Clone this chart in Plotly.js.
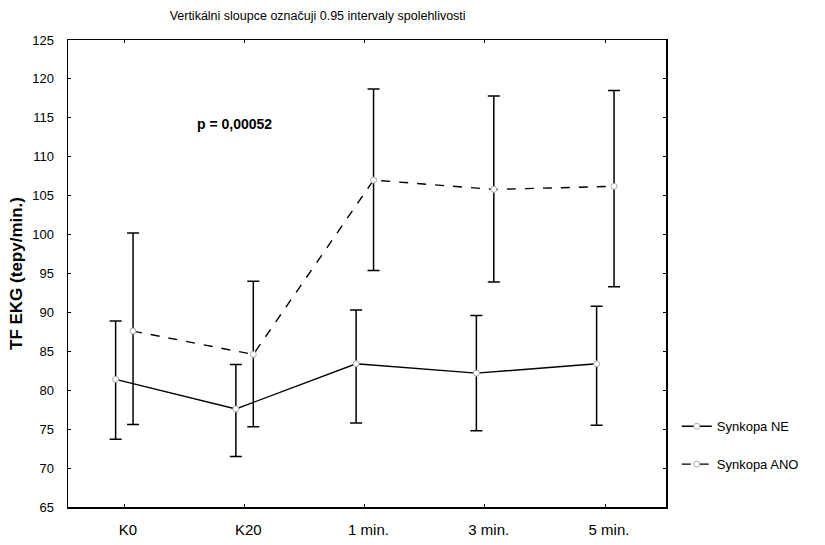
<!DOCTYPE html>
<html>
<head>
<meta charset="utf-8">
<script src="https://cdn.plot.ly/plotly-3.0.1.min.js"></script>
<style>html,body{margin:0;padding:0;background:#fff;}#chart{width:825px;height:545px;}</style>
</head>
<body>
<div id="chart"></div>
<script>
// Categories (time points)
const categories = ["K0", "K20", "1 min.", "3 min.", "5 min."];

// Synkopa NE: mean and 0.95 confidence limits
const neMean  = [81.4, 77.6, 83.4, 82.2, 83.4];
const neUpper = [88.9, 83.3, 90.3, 89.6, 90.8];
const neLower = [73.7, 71.5, 75.8, 74.8, 75.5];

// Synkopa ANO: mean and 0.95 confidence limits
const anoMean  = [87.6, 84.6, 107.0, 105.8, 106.2];
const anoUpper = [100.2, 94.0, 118.7, 117.8, 118.5];
const anoLower = [75.6, 75.3, 95.4, 93.9, 93.3];

const seriesNames = ["Synkopa NE", "Synkopa ANO"];
const yTicks = [65, 70, 75, 80, 85, 90, 95, 100, 105, 110, 115, 120, 125];
const pText = "p = 0,00052";
const titleText = "Vertikálni sloupce označuji 0.95 intervaly spolehlivosti";
const yTitle = "TF EKG (tepy/min.)";

const FONT = "Liberation Sans, Arial, sans-serif";
const idx = categories.map((c, i) => i);

function makeTrace(name, mean, upper, lower, shift, dash, group) {
  return {
    type: "scatter",
    mode: "lines+markers",
    name: name,
    legendgroup: group,
    x: idx.map(i => i + shift),
    y: mean,
    line: {color: "#000", width: 1.4, dash: dash},
    marker: {symbol: "circle", size: 6, color: "#fff", line: {color: "#aaa", width: 1}},
    error_y: {
      type: "data", symmetric: false,
      array: upper.map((u, i) => u - mean[i]),
      arrayminus: lower.map((l, i) => mean[i] - l),
      color: "#000", thickness: 1.5, width: 6
    },
    hoverinfo: "x+y"
  };
}

const data = [
  makeTrace(seriesNames[0], neMean, neUpper, neLower, -0.07, "solid", "g1"),
  makeTrace(seriesNames[1], anoMean, anoUpper, anoLower, 0.075, "dash", "g2")
];

const layout = {
  width: 825, height: 545,
  margin: {l: 68, r: 159, t: 40, b: 38},
  paper_bgcolor: "#fff", plot_bgcolor: "#fff",
  font: {family: FONT, color: "#000", size: 12},
  title: {text: titleText, font: {family: FONT, size: 12.5, color: "#000"},
          x: 0.385, xref: "container", xanchor: "center", y: 0.972, yref: "container", yanchor: "middle"},
  xaxis: {
    range: [-0.466, 4.507],
    tickmode: "array", tickvals: idx, ticktext: categories,
    showgrid: false, zeroline: false,
    showline: true, linecolor: "#000", linewidth: 1.5, mirror: "ticks",
    ticks: "inside", ticklen: 3, tickcolor: "#000",
    tickfont: {family: FONT, size: 15, color: "#000"},
    ticklabelshift: 4, ticklabelstandoff: 8
  },
  yaxis: {
    range: [65, 125],
    tickmode: "array", tickvals: yTicks,
    showgrid: false, zeroline: false,
    showline: true, linecolor: "#000", linewidth: 1.5, mirror: "ticks",
    ticks: "inside", ticklen: 3, tickcolor: "#000",
    tickfont: {family: FONT, size: 13, color: "#000"},
    ticklabelstandoff: 10,
    title: {text: yTitle, font: {family: FONT, size: 17, color: "#000", weight: "bold"}, standoff: 5}
  },
  showlegend: true,
  legend: {
    x: 1.018, xanchor: "left", y: 0.205, yanchor: "top",
    traceorder: "grouped", tracegroupgap: 18,
    font: {family: FONT, size: 13, color: "#000"},
    bgcolor: "rgba(0,0,0,0)", itemwidth: 30
  },
  annotations: [{
    text: pText, xref: "paper", yref: "paper",
    x: (235 - 68) / 599, y: (506 - 123) / 467,
    showarrow: false, xanchor: "center", yanchor: "middle",
    font: {family: FONT, size: 14, color: "#000", weight: "bold"}
  }]
};

Plotly.newPlot("chart", data, layout, {displayModeBar: false, staticPlot: true});
</script>
</body>
</html>
